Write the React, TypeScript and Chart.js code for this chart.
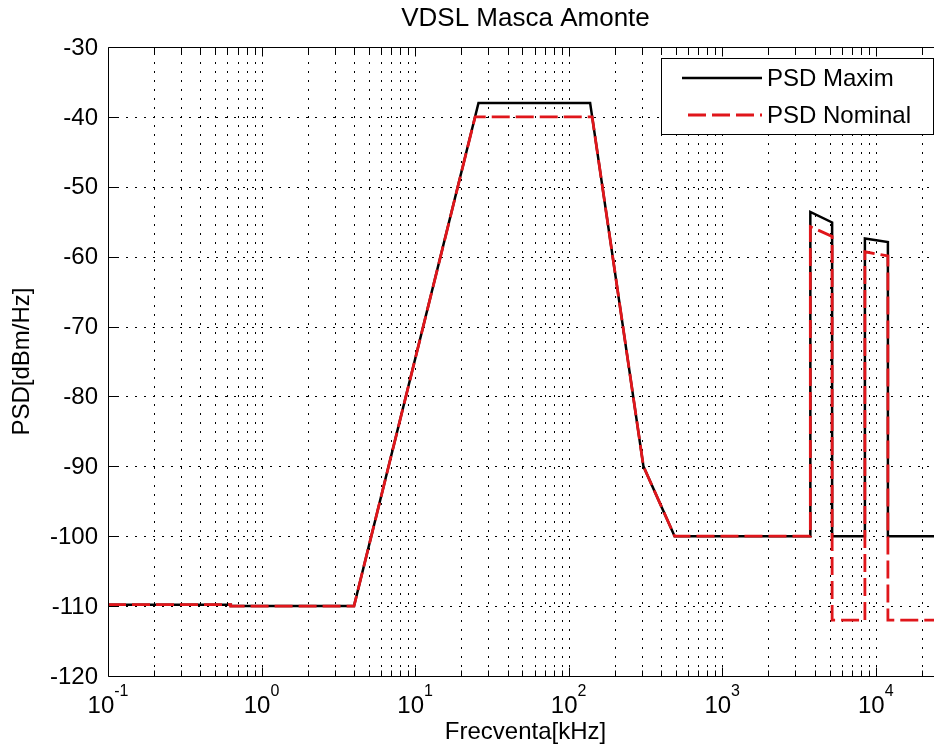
import React, { useEffect, useRef } from "react";
import { Chart, registerables } from "chart.js";

Chart.register(...registerables);

// ---------- data ----------
const chartTitle = "VDSL Masca Amonte";
const xAxisTitle = "Frecventa[kHz]";
const yAxisTitle = "PSD[dBm/Hz]";
const seriesNames = ["PSD Maxim", "PSD Nominal"];

const freqMax = [0.1, 0.63, 0.63, 4, 25.875, 138, 307, 490, 3750, 3750, 5200, 5200, 8500, 8500, 12000, 12000, 30000];
const psdMax = [-109.8, -109.8, -110, -110, -38, -38, -90, -100, -100, -53.6, -55.1, -100, -100, -57.4, -57.9, -100, -100];

const freqNom = [0.1, 0.63, 0.63, 4, 24.6, 142.3, 307, 490, 3750, 3750, 5200, 5200, 8500, 8500, 12000, 12000, 30000];
const psdNom = [-109.8, -109.8, -110, -110, -40, -40, -90, -100, -100, -55.7, -57.1, -112, -112, -59.3, -59.9, -112, -112];

const yTicks = [-120, -110, -100, -90, -80, -70, -60, -50, -40, -30];
const xDecadeExponents = [-1, 0, 1, 2, 3, 4];
const xMinorFactors = [1, 2, 3, 4, 5, 6, 7, 8, 9];
const xMin = 0.1;
const xMax = 30000;

// ---------- drawing helpers ----------
const FONT = '"Liberation Sans", Arial, Helvetica, sans-serif';
const CANVAS_W = 975;
const CANVAS_H = 747;

const matlabPlugin = {
  id: "matlabLook",
  beforeDatasetsDraw(chart: any) {
    const { ctx, chartArea: a, scales } = chart;
    const x = scales.x;
    const y = scales.y;
    ctx.save();
    ctx.beginPath();
    ctx.rect(a.left, a.top, a.right - a.left, a.bottom - a.top);
    ctx.clip();
    ctx.strokeStyle = "#000";
    ctx.lineWidth = 1;
    ctx.setLineDash([2, 7]);
    for (const e of xDecadeExponents) {
      for (const m of xMinorFactors) {
        const v = m * Math.pow(10, e);
        if (v <= xMin || v >= xMax) continue;
        const px = Math.round(x.getPixelForValue(v)) + 0.5;
        ctx.beginPath();
        ctx.moveTo(px, a.bottom);
        ctx.lineTo(px, a.top);
        ctx.stroke();
      }
    }
    for (const t of yTicks) {
      if (t <= yTicks[0] || t >= yTicks[yTicks.length - 1]) continue;
      const py = Math.round(y.getPixelForValue(t)) + 0.5;
      ctx.beginPath();
      ctx.moveTo(a.left, py);
      ctx.lineTo(a.right, py);
      ctx.stroke();
    }
    ctx.restore();
  },
  afterDatasetsDraw(chart: any) {
    const { ctx, chartArea: a, scales } = chart;
    const x = scales.x;
    const y = scales.y;
    ctx.save();
    ctx.setLineDash([]);
    ctx.strokeStyle = "#000";
    ctx.lineWidth = 1;
    const L = Math.round(a.left) + 0.5;
    const R = Math.round(a.right) + 0.5;
    const T = Math.round(a.top) + 0.5;
    const B = Math.round(a.bottom) + 0.5;
    ctx.beginPath();
    ctx.moveTo(L, T);
    ctx.lineTo(R, T);
    ctx.lineTo(R, B);
    ctx.lineTo(L, B);
    ctx.closePath();
    ctx.stroke();

    // x ticks (bottom + top)
    for (const e of xDecadeExponents) {
      for (const m of xMinorFactors) {
        const v = m * Math.pow(10, e);
        if (v <= xMin || v >= xMax) continue;
        const px = Math.round(x.getPixelForValue(v)) + 0.5;
        const len = m === 1 ? 9 : 6;
        ctx.beginPath();
        ctx.moveTo(px, B);
        ctx.lineTo(px, B - len);
        ctx.moveTo(px, T);
        ctx.lineTo(px, T + len);
        ctx.stroke();
      }
    }
    // y ticks (left + right)
    for (const t of yTicks) {
      const py = Math.round(y.getPixelForValue(t)) + 0.5;
      ctx.beginPath();
      ctx.moveTo(L, py);
      ctx.lineTo(L + 9, py);
      ctx.moveTo(R, py);
      ctx.lineTo(R - 9, py);
      ctx.stroke();
    }

    // legend
    const bx = 653, by = 50, bw = 272, bh = 76;
    ctx.fillStyle = "#fff";
    ctx.fillRect(bx, by, bw, bh);
    ctx.strokeRect(bx + 0.5, by + 0.5, bw, bh);
    const ds = chart.data.datasets;
    const rows = [70, 107];
    ds.forEach((d: any, i: number) => {
      const ry = rows[i];
      ctx.save();
      ctx.strokeStyle = d.borderColor;
      ctx.lineWidth = d.borderWidth;
      ctx.setLineDash(d.borderDash || []);
      ctx.lineDashOffset = d.borderDash ? -6 : 0;
      ctx.beginPath();
      ctx.moveTo(674, ry);
      ctx.lineTo(754, ry);
      ctx.stroke();
      ctx.restore();
      ctx.fillStyle = "#000";
      ctx.font = `24px ${FONT}`;
      ctx.textAlign = "left";
      ctx.textBaseline = "middle";
      ctx.fillText(d.label, 759, ry + 1);
    });
    ctx.restore();
  },
  afterDraw(chart: any) {
    const { ctx, chartArea: a, scales } = chart;
    const x = scales.x;
    const y = scales.y;
    ctx.save();
    ctx.fillStyle = "#000";
    // y tick labels
    ctx.font = `24px ${FONT}`;
    ctx.textAlign = "right";
    ctx.textBaseline = "middle";
    for (const t of yTicks) {
      ctx.fillText(String(t), a.left - 10, y.getPixelForValue(t) + 1);
    }
    // x tick labels 10^e
    for (const e of xDecadeExponents) {
      const px = x.getPixelForValue(Math.pow(10, e));
      ctx.font = `24px ${FONT}`;
      const base = "10";
      const wb = ctx.measureText(base).width;
      ctx.font = `16px ${FONT}`;
      const sup = String(e);
      const ws = ctx.measureText(sup).width;
      const start = px - (wb + ws) / 2;
      ctx.textAlign = "left";
      ctx.textBaseline = "alphabetic";
      ctx.font = `24px ${FONT}`;
      ctx.fillText(base, start, 705);
      ctx.font = `16px ${FONT}`;
      ctx.fillText(sup, start + wb, 688);
    }
    // title
    ctx.textAlign = "center";
    ctx.textBaseline = "middle";
    ctx.font = `26px ${FONT}`;
    ctx.fillText(chartTitle, (a.left + a.right) / 2 - 3, 11);
    // x axis title
    ctx.font = `24px ${FONT}`;
    ctx.fillText(xAxisTitle, (a.left + a.right) / 2 - 3, 724);
    // y axis title
    ctx.save();
    ctx.translate(14, (a.top + a.bottom) / 2);
    ctx.rotate(-Math.PI / 2);
    ctx.fillText(yAxisTitle, 0, 0);
    ctx.restore();
    ctx.restore();
  },
};

export default function App() {
  const ref = useRef<HTMLCanvasElement | null>(null);
  useEffect(() => {
    document.documentElement.style.overflow = "hidden";
    document.body.style.overflow = "hidden";
    if (!ref.current) return;
    const chart = new Chart(ref.current, {
      type: "line",
      data: {
        datasets: [
          {
            label: seriesNames[0],
            data: freqMax.map((f, i) => ({ x: f, y: psdMax[i] })),
            borderColor: "#000000",
            borderWidth: 2.5,
            pointRadius: 0,
            tension: 0,
            fill: false,
            order: 2,
            borderJoinStyle: "miter",
          },
          {
            label: seriesNames[1],
            data: freqNom.map((f, i) => ({ x: f, y: psdNom[i] })),
            borderColor: "#e0161b",
            borderWidth: 2.8,
            borderDash: [18, 6],
            pointRadius: 0,
            tension: 0,
            fill: false,
            order: 1,
            borderJoinStyle: "miter",
          },
        ],
      },
      options: {
        responsive: false,
        animation: false,
        events: [],
        layout: { padding: { left: 100, top: 39, right: CANVAS_W - 941, bottom: CANVAS_H - 668 } },
        plugins: { legend: { display: false }, tooltip: { enabled: false }, title: { display: false } },
        scales: {
          x: {
            type: "logarithmic",
            min: xMin,
            max: xMax,
            grid: { display: false, drawTicks: false },
            border: { display: false },
            ticks: { display: false },
          },
          y: {
            type: "linear",
            min: yTicks[0],
            max: yTicks[yTicks.length - 1],
            grid: { display: false, drawTicks: false },
            border: { display: false },
            ticks: { display: false },
          },
        },
      },
      plugins: [matlabPlugin],
    } as any);
    return () => chart.destroy();
  }, []);
  return (
    <div style={{ width: 934, height: CANVAS_H, marginBottom: -8, overflow: "hidden", background: "#fff" }}>
      <canvas ref={ref} width={CANVAS_W} height={CANVAS_H} style={{ display: "block" }} />
    </div>
  );
}
